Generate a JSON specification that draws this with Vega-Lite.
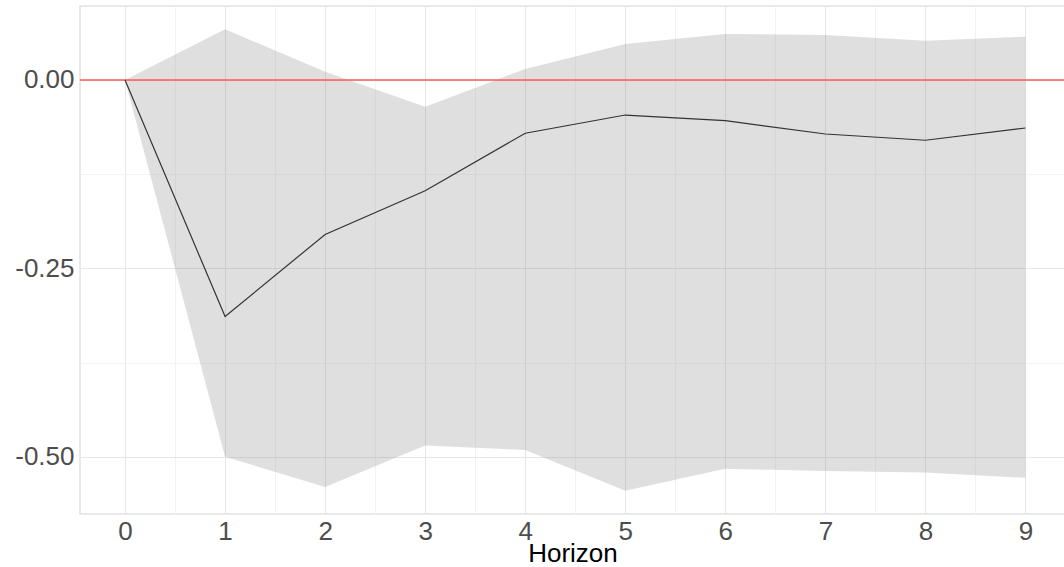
{
  "$schema": "https://vega.github.io/schema/vega-lite/v6.json",
  "autosize": {"type": "none"},
  "padding": {"left": 80, "top": 6, "right": 0, "bottom": 53},
  "width": 985,
  "height": 508,
  "config": {
    "view": {"stroke": "#e2e2e2", "strokeWidth": 1.5},
    "font": "Liberation Sans"
  },
  "data": {
    "values": [
      {"h": 0, "irf": 0.0, "lower": 0.0, "upper": 0.0},
      {"h": 1, "irf": -0.314, "lower": -0.5, "upper": 0.0673},
      {"h": 2, "irf": -0.205, "lower": -0.54, "upper": 0.011},
      {"h": 3, "irf": -0.147, "lower": -0.485, "upper": -0.0354},
      {"h": 4, "irf": -0.0707, "lower": -0.491, "upper": 0.0146},
      {"h": 5, "irf": -0.0465, "lower": -0.545, "upper": 0.0478},
      {"h": 6, "irf": -0.054, "lower": -0.516, "upper": 0.0611},
      {"h": 7, "irf": -0.0717, "lower": -0.519, "upper": 0.0597},
      {"h": 8, "irf": -0.08, "lower": -0.521, "upper": 0.0522},
      {"h": 9, "irf": -0.0637, "lower": -0.528, "upper": 0.0575}
    ]
  },
  "layer": [
    {
      "mark": {"type": "area", "fill": "#7f7f7f", "opacity": 0.25},
      "encoding": {
        "x": {
          "field": "h",
          "type": "quantitative",
          "scale": {"domain": [-0.45, 9.395], "nice": false, "zero": false},
          "axis": {
            "title": "Horizon",
            "titleFontSize": 26,
            "titleFontWeight": "normal",
            "titleColor": "#000000",
            "titlePadding": -4,
            "values": [0, 0.5, 1, 1.5, 2, 2.5, 3, 3.5, 4, 4.5, 5, 5.5, 6, 6.5, 7, 7.5, 8, 8.5, 9],
            "labelExpr": "datum.value % 1 === 0 ? format(datum.value, 'd') : ''",
            "labelFontSize": 26,
            "labelColor": "#4d4d4d",
            "labelPadding": 4,
            "labelFlush": false,
            "domain": false,
            "ticks": false,
            "grid": true,
            "gridColor": {"condition": {"test": "datum.value % 1 !== 0", "value": "#f3f3f3"}, "value": "#e6e6e6"},
            "gridWidth": 1
          }
        },
        "y": {
          "field": "lower",
          "type": "quantitative",
          "scale": {"domain": [-0.576, 0.0982], "nice": false, "zero": false},
          "axis": {
            "title": null,
            "values": [-0.5, -0.375, -0.25, -0.125, 0],
            "labelExpr": "abs(datum.value*4 - round(datum.value*4)) < 0.001 ? replace(format(datum.value, '.2f'), '\u2212', '-') : ''",
            "labelFontSize": 26,
            "labelColor": "#4d4d4d",
            "labelPadding": 6,
            "domain": false,
            "ticks": false,
            "grid": true,
            "gridColor": {"condition": {"test": "abs(datum.value*4 - round(datum.value*4)) > 0.001", "value": "#f3f3f3"}, "value": "#e6e6e6"}
          }
        },
        "y2": {"field": "upper"}
      }
    },
    {
      "data": {"values": [{"ref": 0}]},
      "mark": {"type": "rule", "color": "#ff5a5a", "strokeWidth": 1.3},
      "encoding": {"y": {"field": "ref", "type": "quantitative"}}
    },
    {
      "mark": {"type": "line", "color": "#333333", "strokeWidth": 1.2},
      "encoding": {
        "x": {"field": "h", "type": "quantitative"},
        "y": {"field": "irf", "type": "quantitative"}
      }
    }
  ]
}
